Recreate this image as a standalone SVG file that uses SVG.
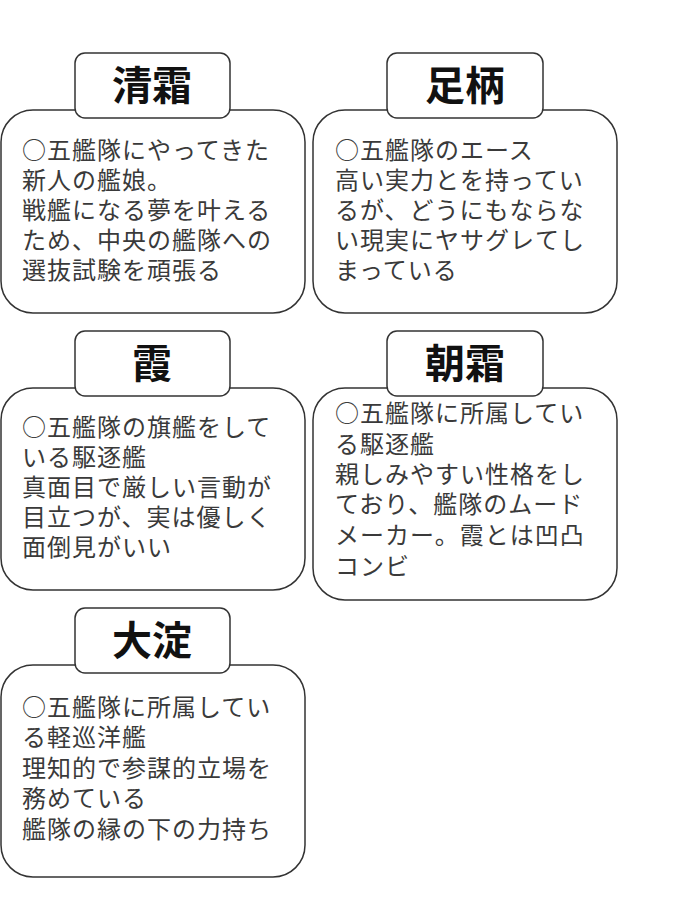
<svg xmlns="http://www.w3.org/2000/svg" width="675" height="900" viewBox="0 0 675 900">
<style>
.box{fill:#fff;stroke:#333;stroke-width:1.5}
.title{font-family:"Noto Sans CJK JP","Noto Sans CJK SC",sans-serif;font-size:40px;font-weight:bold;fill:#111;text-anchor:middle}
.body{font-family:"Noto Sans CJK JP","Noto Sans CJK SC",sans-serif;font-size:24px;letter-spacing:1px;fill:#3a3a3a}
</style>
<rect width="675" height="900" fill="#fff"/>
<g id="kiyoshimo">
<rect class="box" x="1" y="110" width="304" height="203" rx="32"/>
<rect class="box" x="75" y="53" width="155" height="65" rx="10"/>
<text class="title" x="152" y="100">清霜</text>
<text class="body"><tspan x="22" y="159">○五艦隊にやってきた</tspan><tspan x="22" y="189">新人の艦娘。</tspan><tspan x="22" y="219">戦艦になる夢を叶える</tspan><tspan x="22" y="249">ため、中央の艦隊への</tspan><tspan x="22" y="279">選抜試験を頑張る</tspan></text>
</g>
<g id="ashigara">
<rect class="box" x="313" y="110" width="304" height="203" rx="32"/>
<rect class="box" x="387" y="53" width="156" height="65" rx="10"/>
<text class="title" x="465" y="100">足柄</text>
<text class="body"><tspan x="335" y="159">○五艦隊のエース</tspan><tspan x="335" y="189">高い実力とを持ってい</tspan><tspan x="335" y="219">るが、どうにもならな</tspan><tspan x="335" y="249">い現実にヤサグレてし</tspan><tspan x="335" y="279">まっている</tspan></text>
</g>
<g id="kasumi">
<rect class="box" x="1" y="388" width="304" height="202" rx="32"/>
<rect class="box" x="75" y="331" width="155" height="65" rx="10"/>
<text class="title" x="152" y="378">霞</text>
<text class="body"><tspan x="22" y="436">○五艦隊の旗艦をして</tspan><tspan x="22" y="466">いる駆逐艦</tspan><tspan x="22" y="496">真面目で厳しい言動が</tspan><tspan x="22" y="526">目立つが、実は優しく</tspan><tspan x="22" y="556">面倒見がいい</tspan></text>
</g>
<g id="asashimo">
<rect class="box" x="313" y="388" width="304" height="212" rx="32"/>
<rect class="box" x="387" y="331" width="156" height="65" rx="10"/>
<text class="title" x="465" y="378">朝霜</text>
<text class="body"><tspan x="335" y="422">○五艦隊に所属してい</tspan><tspan x="335" y="453">る駆逐艦</tspan><tspan x="335" y="483">親しみやすい性格をし</tspan><tspan x="335" y="513">ており、艦隊のムード</tspan><tspan x="335" y="544">メーカー。霞とは凹凸</tspan><tspan x="335" y="575">コンビ</tspan></text>
</g>
<g id="oyodo">
<rect class="box" x="1" y="665" width="304" height="212" rx="32"/>
<rect class="box" x="75" y="608" width="155" height="65" rx="10"/>
<text class="title" x="152" y="655">大淀</text>
<text class="body"><tspan x="22" y="716">○五艦隊に所属してい</tspan><tspan x="22" y="746">る軽巡洋艦</tspan><tspan x="22" y="777">理知的で参謀的立場を</tspan><tspan x="22" y="807">務めている</tspan><tspan x="22" y="838">艦隊の縁の下の力持ち</tspan></text>
</g>
<g id="connectors"/>
</svg>
